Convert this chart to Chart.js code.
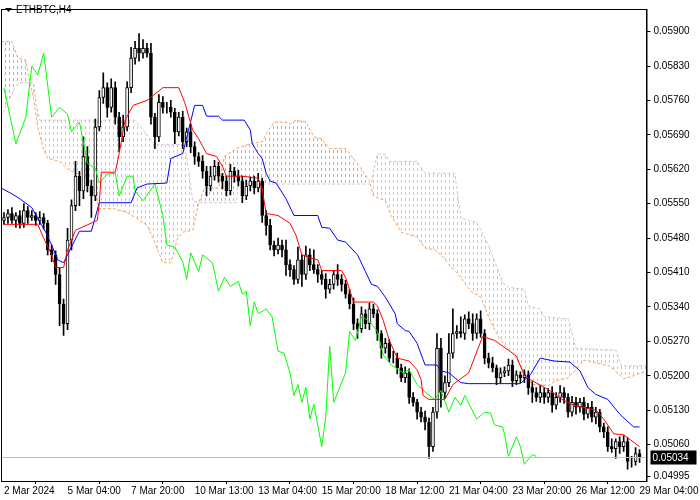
<!DOCTYPE html>
<html>
<head>
<meta charset="utf-8">
<script src="https://cdn.jsdelivr.net/npm/chart.js@4.4.1/dist/chart.umd.min.js"></script>
<style>
  html, body { margin: 0; padding: 0; background: #fff; }
  #wrap { position: relative; width: 700px; height: 500px; }
</style>
</head>
<body>
<div id="wrap"><canvas id="c" width="700" height="500"></canvas></div>
<script>
// ETHBTC H4 - prices in points (1 point = 0.00001)
const firstOpen = 5516;
const closes = [
  5522,5530,5516,5526,5510,5536,5522,5526,5516,5522,5510,
  5456,5446,5406,5346,5306,5476,5546,5606,5576,5646,
  5586,5566,5706,5766,5786,5746,5786,5726,5686,5706,
  5786,5846,5866,5856,5866,5856,5726,5686,5756,5746,
  5746,5736,5696,5726,5676,5696,5666,5646,5636,5616,
  5586,5606,5626,5606,5596,5576,5616,5606,5596,5566,
  5586,5596,5582,5596,5526,5506,5466,5456,5466,5456,
  5426,5416,5396,5436,5406,5446,5426,5416,5406,5396,
  5376,5386,5406,5396,5386,5366,5346,5306,5296,5326,
  5306,5336,5326,5286,5256,5266,5236,5236,5216,5196,
  5206,5156,5146,5126,5116,5106,5056,5126,5256,5166,
  5186,5246,5286,5290,5286,5316,5306,5286,5316,5286,
  5236,5226,5216,5196,5206,5210,5222,5190,5202,5196,
  5202,5176,5166,5156,5166,5156,5166,5140,5156,5166,
  5156,5126,5146,5136,5146,5122,5136,5116,5126,5096,
  5086,5056,5052,5066,5056,5066,5026,5026,5042,5034
];
// wick length above / below the body
const upperWick = [
  10,8,12,6,10,14,8,10,6,12,8,
  6,10,8,14,10,24,12,30,10,40,
  20,12,16,14,30,10,18,12,10,24,
  12,22,14,30,18,10,20,8,16,12,
  10,14,8,10,12,8,16,10,8,12,
  10,20,12,8,6,10,14,8,12,10,
  12,8,10,16,6,10,12,8,14,10,
  20,10,8,26,10,18,12,30,10,8,
  12,10,8,20,10,8,10,12,10,14,
  8,12,10,8,6,10,8,14,10,8,
  12,8,10,6,10,12,8,10,30,20,
  14,40,50,12,30,8,14,20,10,16,
  8,10,12,6,10,8,12,10,8,6,
  10,8,12,10,14,10,8,12,10,14,
  10,8,12,10,8,10,8,12,10,6,
  8,10,16,6,10,12,8,10,12,8
];
const lowerWick = [
  8,12,6,14,10,8,12,6,10,8,12,
  10,14,20,44,24,12,20,10,30,16,
  12,44,10,8,12,20,10,14,30,10,
  8,10,12,16,10,8,14,24,10,12,
  12,10,24,8,14,10,12,16,10,14,
  20,10,8,12,16,10,8,12,10,14,
  8,10,12,8,14,20,10,12,8,14,
  22,14,10,8,24,10,12,8,16,10,
  18,8,10,12,14,8,10,12,20,8,
  10,12,8,14,20,10,8,10,12,8,
  10,12,8,14,10,16,24,10,12,30,
  12,8,10,10,8,12,10,14,10,8,
  12,10,8,14,10,8,10,12,8,10,
  10,14,20,8,10,12,10,14,8,10,
  12,10,8,14,10,12,8,10,14,10,
  12,10,8,20,14,10,16,12,8,10
];

// Ichimoku lines: [bar, price points]
const tenkan = [[0,5508],[8.5,5508],[10,5480],[12,5446],[13,5420],[15,5420],[16,5456],[18,5496],[23.5,5516],[24,5552],[24.5,5614],[28,5614],[29,5652],[30.5,5720],[32.5,5750],[36,5760],[40,5786],[44,5786],[45.5,5756],[47.5,5700],[49,5682],[51,5652],[53.5,5646],[55,5626],[56,5606],[60,5606],[64,5602],[65,5580],[66,5530],[69,5526],[72,5510],[73.5,5486],[75,5446],[77,5440],[79,5436],[80,5414],[85,5414],[86,5400],[88,5350],[93,5350],[94,5342],[95.5,5312],[97,5272],[99,5236],[102,5230],[104,5212],[105,5192],[105.5,5160],[107,5152],[111,5152],[113,5182],[117,5206],[120.5,5280],[123.5,5272],[127,5252],[129,5240],[131,5200],[133,5190],[137,5172],[140.5,5152],[143.5,5140],[149,5130],[151,5112],[153.5,5082],[156,5080],[160,5056]];
const kijun = [[-0.75,5582],[2,5570],[4,5560],[7,5542],[8.5,5520],[10.5,5492],[12,5466],[13.5,5436],[15,5430],[16,5446],[18.5,5486],[19,5494],[22,5494],[24,5552],[32,5552],[33.5,5582],[36,5590],[41,5592],[42,5642],[45,5652],[48,5750],[50,5750],[51,5728],[54,5728],[55,5720],[60.5,5720],[62,5700],[62.5,5672],[64,5652],[65,5642],[66,5612],[67,5596],[68.5,5592],[71,5560],[73,5526],[79,5526],[80,5502],[82,5500],[84,5476],[86,5472],[89,5446],[91,5412],[92.5,5386],[94,5382],[96,5360],[98.5,5326],[99,5306],[101,5292],[102,5290],[104,5266],[106,5222],[109,5222],[110,5210],[112,5206],[115,5186],[117,5184],[130,5184],[132.5,5202],[135,5236],[138.5,5230],[142.5,5228],[145,5210],[147,5176],[149,5162],[152,5152],[155,5122],[158.5,5096],[160,5096]];
const chikou = [[0,5786],[3,5672],[5.5,5726],[7,5830],[8.5,5812],[10,5856],[12,5726],[14,5746],[16,5732],[17,5696],[19,5716],[21,5632],[23,5622],[24,5592],[26,5610],[28,5612],[29,5566],[31,5606],[32.5,5606],[33,5576],[35,5556],[38,5590],[40,5526],[41,5466],[43,5462],[45,5432],[46,5396],[47,5450],[49,5412],[50,5446],[52.5,5430],[54,5372],[55.5,5400],[57,5382],[59,5392],[60,5366],[61,5372],[62,5302],[63,5350],[64,5326],[66,5336],[67.5,5320],[69,5250],[70.5,5246],[72,5206],[73,5160],[74,5182],[75,5146],[76,5176],[77,5112],[78,5142],[80,5056],[81,5116],[82,5260],[83,5146],[86,5206],[87,5290],[88.5,5272],[90,5320],[91,5316],[92.5,5306],[94,5290],[95.5,5242],[97.5,5222],[100.5,5206],[102,5212],[104,5182],[107,5160],[108.5,5152],[110,5170],[112,5126],[113.5,5156],[115,5140],[116,5160],[119,5112],[121,5126],[122.5,5124],[123.5,5100],[125.5,5096],[126,5082],[127,5036],[129,5076],[130,5056],[131,5020],[133,5040],[134,5036]];
const senkouA = [[-0.75,5880],[2,5880],[3.5,5846],[5.5,5842],[6,5816],[7.5,5762],[8.5,5706],[10,5660],[11,5642],[14,5636],[16,5620],[18,5612],[20,5610],[22,5586],[23,5566],[24,5540],[27.5,5540],[31,5532],[33.5,5520],[36,5506],[37.5,5480],[39,5450],[40,5430],[42,5430],[43,5456],[43.5,5476],[45,5492],[47.5,5496],[49,5552],[50.5,5582],[54,5582],[55.5,5646],[58.5,5662],[62,5672],[65,5676],[66,5692],[68,5716],[71,5716],[72,5712],[73.5,5720],[76,5716],[78,5686],[80,5682],[82,5662],[86,5662],[88.5,5636],[90,5620],[92,5596],[93,5566],[96,5556],[97.5,5526],[100,5492],[104,5482],[106,5460],[108.5,5456],[110,5446],[112.5,5422],[115,5400],[117.5,5372],[120,5360],[122,5320],[124,5286],[126,5262],[128.5,5242],[131,5206],[133,5182],[137,5180],[139,5190],[142,5196],[144,5212],[146,5232],[149,5226],[152.5,5220],[156,5194],[158.5,5200],[161.75,5210]];
const senkouB = [[-0.75,5726],[1,5756],[3,5790],[4,5796],[7.5,5796],[8,5756],[9,5720],[33,5720],[38,5670],[45,5670],[46,5646],[47.5,5556],[50,5552],[58.5,5552],[59,5590],[92,5590],[92.5,5592],[94,5652],[96,5650],[97,5636],[104,5636],[106,5612],[113.5,5612],[115,5520],[119,5512],[122,5466],[125.5,5390],[127,5380],[131,5376],[132,5342],[135,5336],[136,5320],[142,5316],[144,5256],[154,5252],[155.5,5220],[161.75,5220]];

const priceTicks = [5900,5830,5760,5690,5620,5550,5480,5410,5340,5270,5200,5130,5060,4995];
const timeTicks = [0,16,32,48,64,80,96,112,128,144,160];
const timeLabels = ['2 Mar 2024','5 Mar 04:00','7 Mar 20:00','10 Mar 13:00','13 Mar 04:00','15 Mar 20:00','18 Mar 12:00','21 Mar 04:00','23 Mar 20:00','26 Mar 12:00','29 Mar 04:00'];
const lastPrice = 5034;

const FONT = '"Liberation Sans", Arial, sans-serif';
const fmt = v => (v / 100000).toFixed(5);
const opens = closes.map((c, i) => i === 0 ? firstOpen : closes[i - 1]);
const bodies = closes.map((c, i) => ({x: i, y: [opens[i], c]}));
const wicks = closes.map((c, i) => ({
  x: i,
  y: [Math.min(opens[i], c) - lowerWick[i], Math.max(opens[i], c) + upperWick[i]]
}));
const bodyFill = closes.map((c, i) => c >= opens[i] ? '#ffffff' : '#000000');
const pts = arr => arr.map(p => ({x: p[0], y: p[1]}));

function hatch(color) {
  const p = document.createElement('canvas');
  p.width = 4; p.height = 6;
  const g = p.getContext('2d');
  g.fillStyle = color;
  g.fillRect(1, 0, 1, 3);
  return g.createPattern(p, 'repeat');
}

// fill the cloud between senkou A and B, orange where A is above, thistle below
const cloudPlugin = {
  id: 'cloud',
  beforeDatasetsDraw(chart) {
    const ctx = chart.ctx, xs = chart.scales.x, ys = chart.scales.y, a = chart.chartArea;
    const A = senkouA.map(p => [Math.round(xs.getPixelForValue(p[0])), Math.round(ys.getPixelForValue(p[1]))]);
    const B = senkouB.map(p => [Math.round(xs.getPixelForValue(p[0])), Math.round(ys.getPixelForValue(p[1]))]);
    const band = () => {
      ctx.beginPath();
      A.forEach((p, i) => i ? ctx.lineTo(p[0], p[1]) : ctx.moveTo(p[0], p[1]));
      for (let i = B.length - 1; i >= 0; i--) ctx.lineTo(B[i][0], B[i][1]);
      ctx.closePath();
    };
    const side = (edge) => {
      ctx.beginPath();
      B.forEach((p, i) => i ? ctx.lineTo(p[0], p[1]) : ctx.moveTo(p[0], p[1]));
      ctx.lineTo(a.right + 5, edge);
      ctx.lineTo(a.left - 5, edge);
      ctx.closePath();
    };
    ctx.save();
    ctx.beginPath(); ctx.rect(a.left, a.top, a.right - a.left, a.bottom - a.top); ctx.clip();
    ctx.save(); side(a.top); ctx.clip(); band(); ctx.fillStyle = hatch('#f4a460'); ctx.fill(); ctx.restore();
    ctx.save(); side(a.bottom); ctx.clip(); band(); ctx.fillStyle = hatch('#d8bfd8'); ctx.fill(); ctx.restore();
    ctx.restore();
  },
  afterDraw(chart) {
    const ctx = chart.ctx, ys = chart.scales.y, a = chart.chartArea;
    const y = Math.round(ys.getPixelForValue(lastPrice)) + 0.5;
    ctx.save();
    ctx.strokeStyle = '#c0c0c0'; ctx.lineWidth = 1;
    ctx.beginPath(); ctx.moveTo(a.left, y); ctx.lineTo(a.right, y); ctx.stroke();
    ctx.fillStyle = '#000';
    ctx.fillRect(a.right + 4, y - 7, 46, 14);
    ctx.fillStyle = '#fff';
    ctx.font = '10px ' + FONT;
    ctx.textBaseline = 'middle';
    ctx.fillText(fmt(lastPrice), a.right + 6, y + 1);
    // frame
    ctx.strokeStyle = '#000';
    ctx.strokeRect(a.left + 0.5, a.top + 0.5, a.right - a.left, a.bottom - a.top);
    // title
    ctx.fillStyle = '#000';
    ctx.beginPath(); ctx.moveTo(5, 8); ctx.lineTo(12, 8); ctx.lineTo(8.5, 12); ctx.closePath(); ctx.fill();
    ctx.font = '10px ' + FONT;
    ctx.textBaseline = 'middle';
    ctx.fillText('ETHBTC,H4', 16, 10);
    ctx.restore();
  }
};

const line = (label, data, color, extra) => Object.assign({
  type: 'line', label, data: pts(data), borderColor: color, borderWidth: 1,
  pointRadius: 0, tension: 0, fill: false
}, extra || {});

new Chart(document.getElementById('c'), {
  data: {
    datasets: [
      line('Senkou A', senkouA, '#f4a460', {borderDash: [3, 2], order: 10}),
      line('Senkou B', senkouB, '#d8bfd8', {borderDash: [3, 2], order: 10}),
      {type: 'bar', label: 'wicks', data: wicks, backgroundColor: '#000', barThickness: 1, order: 5, grouped: false},
      {type: 'bar', label: 'bodies', data: bodies, backgroundColor: bodyFill, borderColor: '#000',
       borderWidth: 1, borderSkipped: false, barThickness: 3, order: 4, grouped: false},
      line('Chikou', chikou, '#00ff00', {order: 3}),
      line('Kijun', kijun, '#0000ff', {order: 2}),
      line('Tenkan', tenkan, '#ff0000', {order: 1})
    ]
  },
  options: {
    responsive: false,
    animation: false,
    devicePixelRatio: 1,
    layout: {padding: {left: 1, top: 1, right: 0, bottom: 0}},
    plugins: {legend: {display: false}, tooltip: {enabled: false}},
    scales: {
      x: {
        type: 'linear', min: -0.75, max: 161.75, offset: false,
        afterBuildTicks: s => { s.ticks = timeTicks.map(v => ({value: v})); },
        afterFit: s => { s.height = 19; },
        grid: {drawOnChartArea: false, color: '#000', tickLength: 3},
        border: {color: '#000'},
        ticks: {
          callback: (v, i) => timeLabels[i], maxRotation: 0, autoSkip: false, align: 'start',
          color: '#000', padding: 1, font: {family: FONT, size: 10}
        }
      },
      y: {
        position: 'right', min: 4986, max: 5946,
        afterBuildTicks: s => { s.ticks = priceTicks.map(v => ({value: v})); },
        afterFit: s => { s.width = 49; },
        grid: {drawOnChartArea: false, color: '#000', tickLength: 4},
        border: {color: '#000'},
        ticks: {callback: v => fmt(v), color: '#000', padding: 3, font: {family: FONT, size: 10}}
      }
    }
  },
  plugins: [cloudPlugin]
});
</script>
</body>
</html>
